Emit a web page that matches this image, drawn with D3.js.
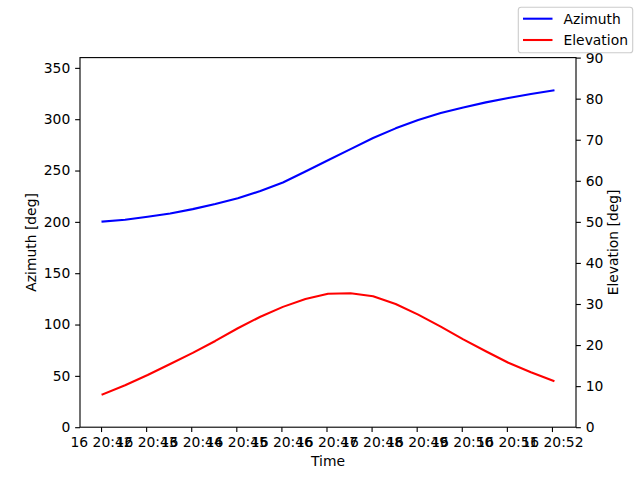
<!DOCTYPE html>
<html>
<head>
<meta charset="utf-8">
<script src="https://cdn.jsdelivr.net/npm/d3@7"></script>
<style>
  html, body { margin: 0; padding: 0; background: #fff; }
  svg { display: block; }
  text { font-family: "DejaVu Sans", sans-serif; fill: #000; }
</style>
</head>
<body>
<svg id="chart" width="640" height="480"></svg>
<script>
// ---- data ----
const times = [
  "2024-01-16T20:42:02", "2024-01-16T20:42:32", "2024-01-16T20:43:02", "2024-01-16T20:43:32",
  "2024-01-16T20:44:02", "2024-01-16T20:44:32", "2024-01-16T20:45:02", "2024-01-16T20:45:32",
  "2024-01-16T20:46:02", "2024-01-16T20:46:32", "2024-01-16T20:47:02", "2024-01-16T20:47:32",
  "2024-01-16T20:48:02", "2024-01-16T20:48:32", "2024-01-16T20:49:02", "2024-01-16T20:49:32",
  "2024-01-16T20:50:02", "2024-01-16T20:50:32", "2024-01-16T20:51:02", "2024-01-16T20:51:32",
  "2024-01-16T20:52:02"
];
const azimuth = [200.3, 202.0, 204.9, 208.1, 212.4, 217.3, 223.1, 230.0, 238.4, 249.1, 260.0,
                 270.9, 281.7, 291.1, 299.2, 306.0, 311.5, 316.4, 320.7, 324.6, 328.1];
const elevation = [8.0, 10.2, 12.7, 15.4, 18.1, 21.0, 24.1, 26.9, 29.3, 31.2, 32.5,
                   32.6, 31.9, 30.0, 27.4, 24.5, 21.4, 18.5, 15.7, 13.4, 11.3];
const xTickTimes = [
  "2024-01-16T20:42:00", "2024-01-16T20:43:00", "2024-01-16T20:44:00", "2024-01-16T20:45:00",
  "2024-01-16T20:46:00", "2024-01-16T20:47:00", "2024-01-16T20:48:00", "2024-01-16T20:49:00",
  "2024-01-16T20:50:00", "2024-01-16T20:51:00", "2024-01-16T20:52:00"
];
const azTicks = [0, 50, 100, 150, 200, 250, 300, 350];
const elTicks = [0, 10, 20, 30, 40, 50, 60, 70, 80, 90];
const seriesNames = ["Azimuth", "Elevation"];
const seriesColors = ["#0000ff", "#ff0000"];

// ---- layout ----
const W = 640, H = 480;
const L = 80, R = 576, T = 57.6, B = 427.2;
const fs = 13.89, tickLen = 4.86, tickPad = 4.86;

const parse = d3.isoParse;
const tDates = times.map(s => new Date(s));
const tickDates = xTickTimes.map(s => new Date(s));

const t0 = +tDates[0], t1 = +tDates[tDates.length - 1];
const pad = (t1 - t0) * 0.05;
const x = d3.scaleTime().domain([new Date(t0 - pad), new Date(t1 + pad)]).range([L, R]);
const yA = d3.scaleLinear().domain([0, 360]).range([B, T]);
const yE = d3.scaleLinear().domain([0, 90]).range([B, T]);

const svg = d3.select("#chart");
svg.append("rect").attr("width", W).attr("height", H).attr("fill", "#fff");

// lines
const azData = tDates.map((d, i) => [d, azimuth[i]]);
const elData = tDates.map((d, i) => [d, elevation[i]]);
const lineA = d3.line().x(d => x(d[0])).y(d => yA(d[1]));
const lineE = d3.line().x(d => x(d[0])).y(d => yE(d[1]));

svg.append("path").datum(azData).attr("d", lineA)
  .attr("fill", "none").attr("stroke", seriesColors[0]).attr("stroke-width", 2.08)
  .attr("stroke-linejoin", "round").attr("stroke-linecap", "square");
svg.append("path").datum(elData).attr("d", lineE)
  .attr("fill", "none").attr("stroke", seriesColors[1]).attr("stroke-width", 2.08)
  .attr("stroke-linejoin", "round").attr("stroke-linecap", "square");

// axes
const fmt = d3.timeFormat("%d %H:%M");
const xAxis = d3.axisBottom(x).tickValues(tickDates).tickFormat(fmt)
  .tickSizeInner(tickLen).tickSizeOuter(0).tickPadding(tickPad);
const yAxisL = d3.axisLeft(yA).tickValues(azTicks).tickFormat(d3.format("d"))
  .tickSizeInner(tickLen).tickSizeOuter(0).tickPadding(tickPad);
const yAxisR = d3.axisRight(yE).tickValues(elTicks).tickFormat(d3.format("d"))
  .tickSizeInner(tickLen).tickSizeOuter(0).tickPadding(tickPad);

function styleAxis(g) {
  g.select(".domain").remove();
  g.selectAll(".tick line").attr("stroke", "#000").attr("stroke-width", 1.11);
  g.selectAll(".tick text").attr("font-family", "DejaVu Sans").attr("font-size", fs).attr("fill", "#000");
}
svg.append("g").attr("transform", `translate(0,${B})`).call(xAxis).call(styleAxis);
svg.append("g").attr("transform", `translate(${L},0)`).call(yAxisL).call(styleAxis);
svg.append("g").attr("transform", `translate(${R},0)`).call(yAxisR).call(styleAxis);

// spines
svg.append("rect").attr("x", L).attr("y", T).attr("width", R - L).attr("height", B - T)
  .attr("fill", "none").attr("stroke", "#000").attr("stroke-width", 1.11);

// axis labels
svg.append("text").attr("x", (L + R) / 2).attr("y", 466).attr("text-anchor", "middle")
  .attr("font-size", fs).text("Time");
svg.append("text").attr("transform", `translate(36,${(T + B) / 2}) rotate(-90)`)
  .attr("text-anchor", "middle").attr("font-size", fs).text("Azimuth [deg]");
svg.append("text").attr("transform", `translate(618,${(T + B) / 2}) rotate(-90)`)
  .attr("text-anchor", "middle").attr("font-size", fs).text("Elevation [deg]");

// legend
const lg = svg.append("g");
lg.append("rect").attr("x", 518.3).attr("y", 7.3).attr("width", 114.4).attr("height", 45.4)
  .attr("rx", 2.8).attr("fill", "#fff").attr("fill-opacity", 0.8)
  .attr("stroke", "#cccccc").attr("stroke-width", 1.11);
seriesNames.forEach((name, i) => {
  const yy = 18.7 + i * 21.3;
  lg.append("line").attr("x1", 523).attr("x2", 552.5).attr("y1", yy).attr("y2", yy)
    .attr("stroke", seriesColors[i]).attr("stroke-width", 2.08);
  lg.append("text").attr("x", 563.5).attr("y", yy + 5).attr("font-size", fs).text(name);
});
</script>
</body>
</html>
